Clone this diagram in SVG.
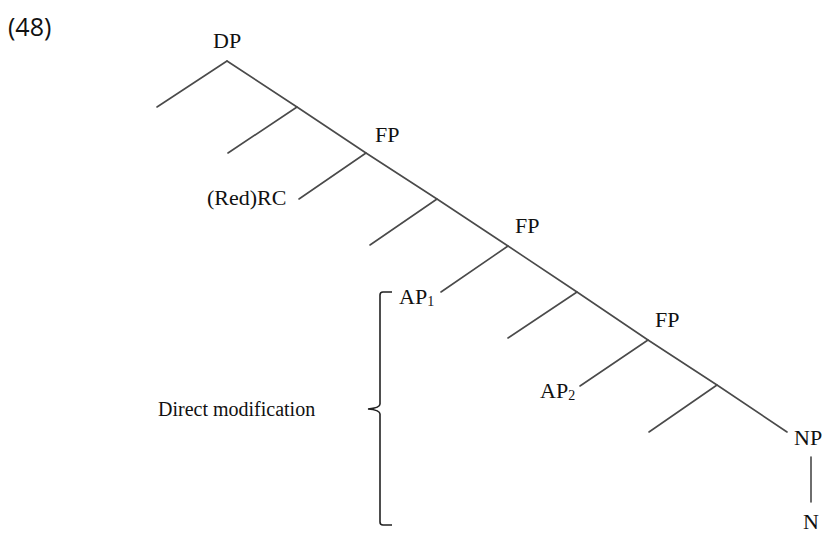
<svg xmlns="http://www.w3.org/2000/svg" width="824" height="537" viewBox="0 0 824 537">
  <style>
    .lbl { font-family: "Liberation Serif", "Times New Roman", serif; font-size: 22px; fill: #111; }
    .note { font-size: 20px; }
    .sub { font-size: 14px; }
    .num { font-family: "Open Sans", "Noto Sans", sans-serif; font-size: 25px; fill: #111; }
    .edge { stroke: #4a4a4a; stroke-width: 1.6; fill: none; stroke-linecap: round; }
    .brace { stroke: #222; stroke-width: 1.6; fill: none; }
  </style>
  <rect width="824" height="537" fill="#fff"/>

  <text class="num" x="8" y="36">(48)</text>

  <!-- tree branches -->
  <g id="edges">
    <!-- right-branching spine -->
    <path class="edge" d="M227,61 L297,107 L366,153 L437,199 L508,246 L577,292 L648,340 L717,385 L787,432"/>
    <!-- left daughters -->
    <path class="edge" d="M227,61 L157,107"/>
    <path class="edge" d="M297,107 L228,153"/>
    <path class="edge" d="M366,153 L299,199"/>
    <path class="edge" d="M437,199 L370,245"/>
    <path class="edge" d="M508,246 L441,292"/>
    <path class="edge" d="M577,292 L508,338"/>
    <path class="edge" d="M648,340 L580,386"/>
    <path class="edge" d="M717,385 L649,432"/>
    <!-- NP to N -->
    <path class="edge" d="M811,457 L811,502"/>
  </g>

  <g id="dp"><text class="lbl" x="213" y="48">DP</text></g>
  <g id="fp1"><text class="lbl" x="375" y="142">FP</text></g>
  <g id="rc"><text class="lbl" x="207" y="205">(Red)RC</text></g>
  <g id="fp2"><text class="lbl" x="515" y="233">FP</text></g>
  <g id="ap1"><text class="lbl" x="399" y="304">AP<tspan class="sub" dy="2">1</tspan></text></g>
  <g id="fp3"><text class="lbl" x="655" y="327">FP</text></g>
  <g id="ap2"><text class="lbl" x="540" y="398">AP<tspan class="sub" dy="2">2</tspan></text></g>
  <g id="np"><text class="lbl" x="794" y="445">NP</text></g>
  <g id="n"><text class="lbl" x="803" y="529">N</text></g>

  <!-- curly bracket spanning the AP modifiers -->
  <g id="direct-modification">
    <path class="brace" d="M392,292 L383,292 Q380,292 380,295 L380,404 Q380,408 368,409 Q380,410 380,414 L380,522 Q380,525 383,525 L392,525"/>
    <text class="lbl note" x="158" y="416">Direct modification</text>
  </g>
</svg>
